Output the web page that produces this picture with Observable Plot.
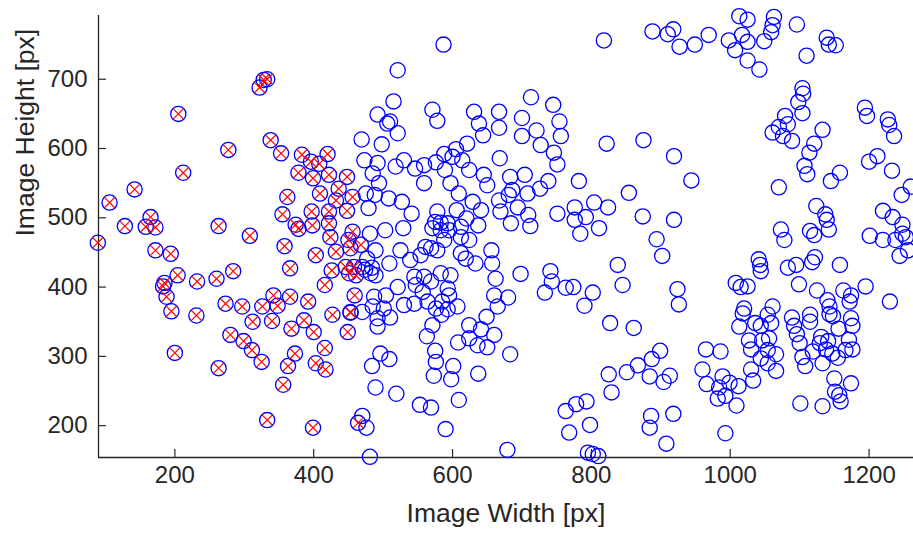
<!DOCTYPE html>
<html><head><meta charset="utf-8">
<script src="https://cdn.jsdelivr.net/npm/d3@7"></script>
<script src="https://cdn.jsdelivr.net/npm/@observablehq/plot@0.6"></script>
<style>body{margin:0;background:#fff}</style>
</head><body><div id="chart"></div>
<script>
// Marked samples (circle with red cross)
const markedW = [205,322,328,333,277,338,353,383,420,396,408,
212,142,106,128,165,158,172,89,172,194,263,308,362,355,378,374,378,358,366,204,185,183,188,232,260,284,195,273,297,326,342,348,366,
231,200,263,280,299,311,325,312,340,368,373,363,356,333,
386,400,427,453,449,416,403,417,399,464,
399,422,448,409,436,432,456,448,397,398,422,422,424,456,450,453,468,432,403,426,446,458,461,451,416,459,392,453];
const markedH = [650,688,699,700,598,612,593,591,592,581,578,
565,541,522,488,501,487,486,464,453,448,488,474,530,505,565,490,484,459,427,417,406,401,386,408,412,423,365,376,372,372,388,373,386,
359,305,283,331,322,309,292,350,351,340,304,286,259,208,
352,335,360,363,335,312,290,281,197,204,
557,562,559,535,542,525,530,510,509,489,509,492,472,480,468,456,461,451,446,424,429,429,417,420,403,388,379,364];

// Other samples (circle only)
const otherW = [
587,521,515,492,510,506,521,469,498,571,578,631,638,644,621,667,667,473,492,530,576,588,605,600,614,668,
818,888,910,918,927,949,969,713,745,700,754,700,721,756,727,746,751,822,875,919,
1013,1025,1063,1061,1059,1049,998,1017,1025,1007,1025,1042,1096,1139,1142,1152,1110,1104,1105,1098,1104,1079,1083,1070,1061,1076,1089,1133,1121,1114,1107,1194,1197,1227,1229,1236,1212,1200,
485,494,475,488,508,527,479,541,518,546,559,589,559,597,609,624,645,650,629,641,606,578,575,583,593,583,571,595,620,637,612,612,624,588,578,569,612,619,633,656,657,662,660,665,667,669,481,503,529,489,477,470,482,489,509,525,539,554,561,545,559,569,583,597,593,595,521,547,557,564,585,607,504,487,485,501,530,545,576,593,470,474,484,
683,704,738,726,782,708,686,681,694,709,712,684,751,776,804,824,776,792,784,811,854,874,919,944,894,902,838,845,698,741,743,733,763,774,802,790,680,924,926,
1111,1158,1145,1233,1247,1260,1070,1124,1137,1139,1142,1115,1121,1073,1078,1220,1234,1248,1248,1253,1201,1220,1238,1256,1244,1041,1043,1044,1083,1095,1118,1122,1158,1008,1015,1025,1099,1125,1163,1174,1172,1195,1140,1143,1230,1020,1061,
470,476,481,489,519,484,496,509,492,492,510,563,571,575,576,573,601,598,584,553,569,609,590,624,608,624,636,650,660,641,649,637,679,
683,827,861,899,887,867,851,825,829,884,904,913,763,778,793,768,798,886,884,918,908,795,802,810,965,960,966,
1018,1013,1036,1044,1054,1059,1027,1030,1046,1056,1054,1066,1044,1054,1066,1030,1033,986,989,999,1012,984,982,993,1009,993,1089,1092,1096,1115,1115,1100,1104,1108,1133,1131,1129,1119,1141,1138,1147,1143,1148,1156,1174,1176,1171,1176,1166,1155,1150,1174,1151,1157,1159,1101,1133];
const otherH = [
750,713,668,649,639,636,622,613,606,656,640,653,636,619,607,653,630,583,579,583,580,592,599,588,583,586,
756,769,765,772,747,750,764,674,663,644,639,618,626,618,605,594,577,607,612,589,
791,786,790,778,768,755,756,764,754,742,727,714,779,760,750,749,734,687,679,667,651,647,635,631,623,618,611,627,607,594,575,659,647,642,634,618,589,581,
564,550,535,533,528,523,514,506,574,571,576,569,550,550,535,569,562,547,523,511,511,509,494,493,492,482,485,482,499,489,487,472,468,468,453,456,449,441,434,453,434,412,388,372,525,509,477,482,485,453,441,429,420,417,434,453,439,446,458,415,415,408,420,417,398,388,400,403,393,379,379,372,388,386,372,369,374,376,369,368,364,425,428,
559,562,553,542,553,535,540,533,515,504,488,492,506,515,522,515,497,501,477,485,536,502,497,554,469,445,432,403,419,423,408,392,399,400,392,373,385,397,375,
563,565,553,568,533,545,544,517,505,497,483,481,475,483,468,510,501,490,477,472,474,468,468,453,445,440,432,423,428,432,436,443,432,406,400,401,404,395,395,388,379,401,381,372,379,369,372,
214,197,155,255,246,286,304,296,355,343,356,329,345,308,292,272,286,267,360,230,226,237,195,345,320,326,316,313,331,339,357,275,165,
303,348,341,308,296,287,277,274,248,271,263,272,221,231,235,190,201,214,197,217,174,161,159,156,310,281,260,
362,343,348,344,360,348,323,310,323,326,309,303,297,290,279,281,265,307,271,262,257,255,239,243,229,189,356,344,332,360,350,319,299,286,290,328,319,307,322,310,304,361,358,340,355,344,324,310,309,298,268,261,249,244,235,232,228];

const xTicks = [200, 400, 600, 800, 1000, 1200];
const yTicks = [200, 300, 400, 500, 600, 700];
const xDomain = [90, 1264];
const yDomain = [154, 792];
const xLabel = "Image Width [px]";
const yLabel = "Image Height [px]";

const marked = markedW.map((w, i) => ({w, h: markedH[i]}));
const others = otherW.map((w, i) => ({w, h: otherH[i]}));
const all = marked.concat(others);

const axisColor = "#262626";
const chart = Plot.plot({
  width: 913, height: 538,
  marginLeft: 98, marginRight: 0, marginTop: 15, marginBottom: 81,
  style: {fontFamily: "'Liberation Sans', Arial, Helvetica, sans-serif", background: "#fff", color: axisColor, overflow: "visible"},
  x: {domain: xDomain},
  y: {domain: yDomain},
  marks: [
    Plot.axisX(xTicks, {tickSize: 0, tickPadding: 8, fontSize: 24, tickFormat: d => String(d), label: null}),
    Plot.axisY(yTicks, {tickSize: 0, tickPadding: 11, fontSize: 24, tickFormat: d => String(d), label: null}),
    Plot.ruleX(xTicks, {x: d => d, insetTop: 434, stroke: axisColor, strokeWidth: 1.2}),
    Plot.ruleY(yTicks, {y: d => d, insetRight: 807, stroke: axisColor, strokeWidth: 1.2}),
    Plot.ruleY([yDomain[0]], {stroke: axisColor, strokeWidth: 1.3}),
    Plot.ruleX([xDomain[0]], {stroke: axisColor, strokeWidth: 1.3}),
    Plot.text([xLabel], {text: d => d, frameAnchor: "bottom", dy: 64, fontSize: 26.5, fill: axisColor}),
    Plot.text([yLabel], {text: d => d, frameAnchor: "left", dx: -73, rotate: -90, fontSize: 26.5, fill: axisColor}),
    Plot.dot(all, {x: "w", y: "h", r: 7.6, stroke: "#0000ff", strokeWidth: 1.3, fill: "none"}),
    Plot.dot(marked, {x: "w", y: "h", symbol: "times", r: 4.8, stroke: "#ff0000", strokeWidth: 1.2})
  ]
});
document.getElementById("chart").append(chart);
</script>
</body></html>
